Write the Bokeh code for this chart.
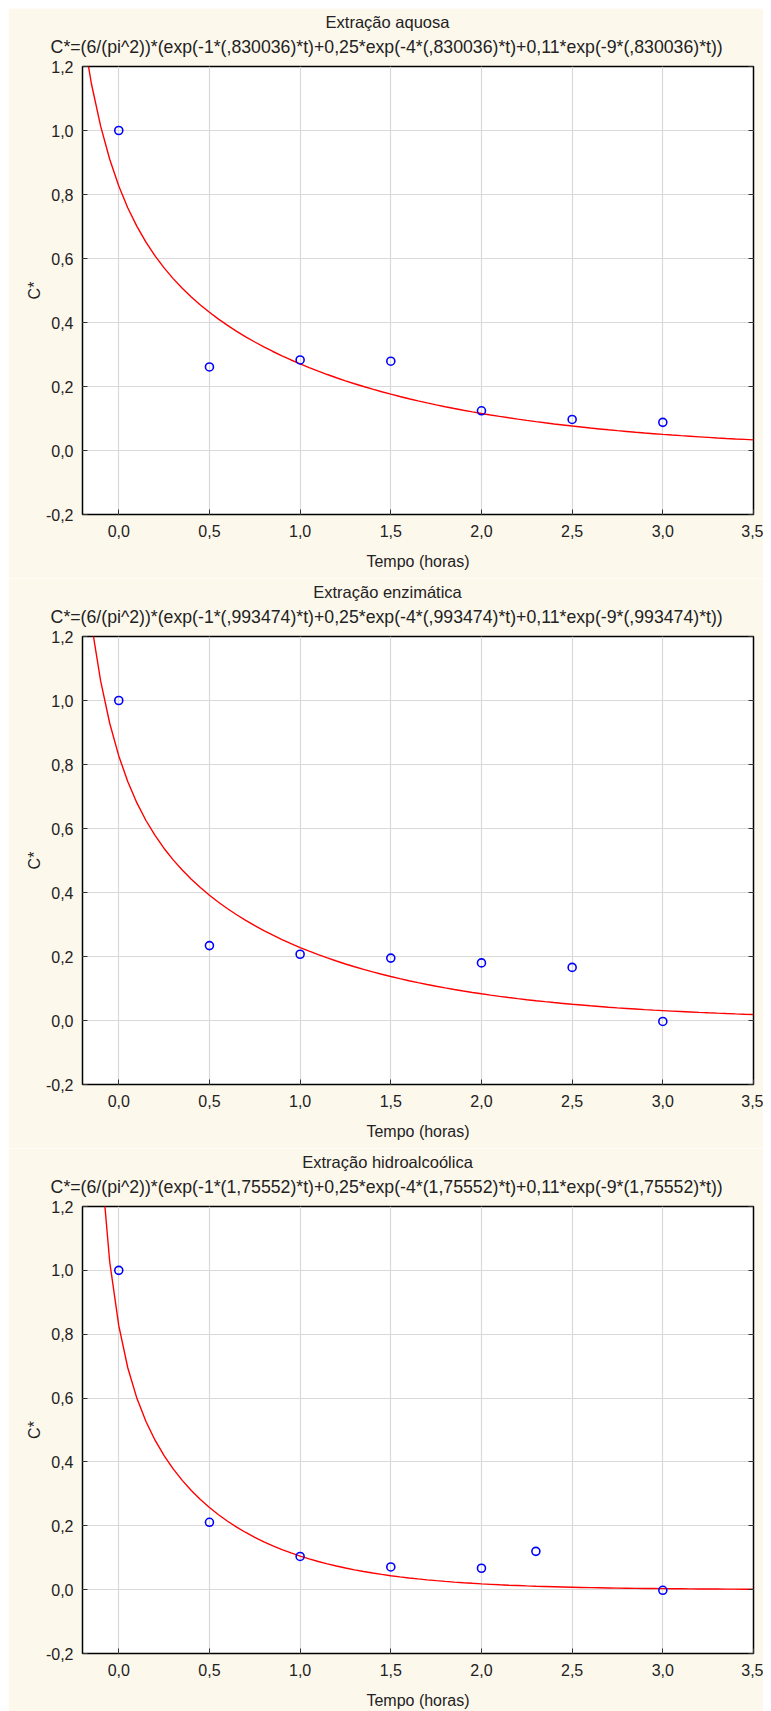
import numpy as np
from bokeh.plotting import figure
from bokeh.layouts import column
from bokeh.models import (Range1d, FixedTicker, CustomJSTickFormatter, Title, LinearAxis)
from bokeh.embed import file_html
from bokeh.resources import INLINE

# ---- data ----
panel_titles = ["Extração aquosa", "Extração enzimática", "Extração hidroalcoólica"]
k_values = [0.830036, 0.993474, 1.75552]
k_labels = [",830036", ",993474", "1,75552"]

t_aquosa = [0.0, 0.5, 1.0, 1.5, 2.0, 2.5, 3.0]
c_aquosa = [1.0, 0.261, 0.283, 0.279, 0.124, 0.097, 0.088]

t_enzim = [0.0, 0.5, 1.0, 1.5, 2.0, 2.5, 3.0]
c_enzim = [1.0, 0.234, 0.207, 0.195, 0.180, 0.166, -0.003]

t_hidro = [0.0, 0.5, 1.0, 1.5, 2.0, 2.3, 3.0]
c_hidro = [1.0, 0.211, 0.104, 0.071, 0.067, 0.120, -0.002]

x_ticks = [0.0, 0.5, 1.0, 1.5, 2.0, 2.5, 3.0, 3.5]
y_ticks = [-0.2, 0.0, 0.2, 0.4, 0.6, 0.8, 1.0, 1.2]

series = [(t_aquosa, c_aquosa), (t_enzim, c_enzim), (t_hidro, c_hidro)]

FONT = "Liberation Sans"
TXT = "#222222"
BG = "#FDF8EC"

fmt = CustomJSTickFormatter(code="return tick.toFixed(1).replace('.', ',');")
blank = CustomJSTickFormatter(code="return '';")

# approximate Arial/Liberation Sans advance widths (per 1000 em) to centre titles on the figure
_AW = {" ": 278, "(": 333, ")": 333, "*": 389, "+": 584, ",": 278, "-": 333, ".": 278,
       "/": 278, "=": 584, "^": 469, "C": 722, "E": 667}
for _d in "0123456789":
    _AW[_d] = 556
_AW.update({"a": 556, "c": 500, "e": 556, "h": 556, "i": 222, "l": 222, "m": 833, "n": 556,
            "o": 556, "p": 556, "q": 556, "r": 333, "s": 500, "t": 278, "u": 556, "x": 500,
            "z": 500, "ç": 500, "ã": 556, "á": 556, "ó": 556, "d": 556, "k": 500})


def text_width(s, size):
    return sum(_AW.get(ch, 556) for ch in s) / 1000.0 * size


def model(t, k):
    t = np.asarray(t)
    return (6.0 / np.pi ** 2) * (np.exp(-1 * k * t) + 0.25 * np.exp(-4 * k * t) + 0.11 * np.exp(-9 * k * t))


t_curve = np.arange(-0.2, 3.5001, 0.05)

W = 755
LEFT, RIGHT, TOP = 74, 10, 58
CENTER = 379
TSIZE, FSIZE = 16.5, 17.7
heights = [570, 570, 563]
bottoms = [64, 64, 57]
figs = []
for i in range(3):
    p = figure(width=W, height=heights[i], output_backend="svg", toolbar_location=None,
               x_range=Range1d(-0.2, 3.5), y_range=Range1d(-0.2, 1.2),
               min_border_left=LEFT, min_border_right=RIGHT, min_border_top=TOP,
               min_border_bottom=bottoms[i], background_fill_color="white",
               border_fill_color=BG, outline_line_color="black", outline_line_width=1.5,
               x_axis_label="Tempo (horas)", y_axis_label="C*")
    p.title = None
    formula = ("C*=(6/(pi^2))*(exp(-1*({k})*t)+0,25*exp(-4*({k})*t)+0,11*exp(-9*({k})*t))"
               .format(k=k_labels[i]))
    f_off = CENTER - text_width(formula, FSIZE) / 2 - LEFT
    t_off = CENTER - text_width(panel_titles[i], TSIZE) / 2 - LEFT
    p.add_layout(Title(text=formula, align="left", text_font=FONT, text_font_size=f"{FSIZE}px",
                       text_font_style="normal", text_color=TXT, standoff=19, offset=f_off), "above")
    p.add_layout(Title(text=panel_titles[i], align="left", text_font=FONT, text_font_size=f"{TSIZE}px",
                       text_font_style="normal", text_color=TXT, standoff=-10, offset=t_off), "above")

    for ax in (p.xaxis[0], p.yaxis[0]):
        ax.axis_line_color = None
        ax.major_tick_in = 5
        ax.major_tick_out = 0
        ax.major_tick_line_color = "#333333"
        ax.minor_tick_line_color = None
        ax.major_label_text_font = FONT
        ax.major_label_text_font_size = "16px"
        ax.major_label_text_color = TXT
        ax.axis_label_text_font = FONT
        ax.axis_label_text_font_size = "16px"
        ax.axis_label_text_font_style = "normal"
        ax.axis_label_text_color = TXT
        ax.formatter = fmt
    p.xaxis.ticker = FixedTicker(ticks=x_ticks)
    p.yaxis.ticker = FixedTicker(ticks=y_ticks)
    p.yaxis.major_label_standoff = 9
    p.yaxis.axis_label_standoff = 0
    p.xaxis.major_label_standoff = 10
    p.xaxis.axis_label_standoff = 13

    rax = LinearAxis(ticker=FixedTicker(ticks=y_ticks), formatter=blank, axis_line_color=None,
                     major_tick_in=5, major_tick_out=0, minor_tick_line_color=None,
                     major_tick_line_color="#333333", major_label_text_color=None,
                     major_label_standoff=0)
    p.add_layout(rax, "right")

    p.xgrid.ticker = FixedTicker(ticks=x_ticks[:-1])
    p.ygrid.ticker = FixedTicker(ticks=y_ticks[1:-1])
    p.grid.grid_line_color = "#D9D9D9"
    p.grid.grid_line_width = 1.2

    k = k_values[i]
    p.line(t_curve, model(t_curve, k), line_color="#FF0000", line_width=1.4)
    ts, cs = series[i]
    p.scatter(ts, cs, marker="circle", size=8, fill_color=None, line_color="#0000FF", line_width=1.6)
    figs.append(p)

layout = column(*figs, spacing=0, margin=(8, 8, 0, 8))
open("out.html", "w").write(file_html(layout, INLINE))
